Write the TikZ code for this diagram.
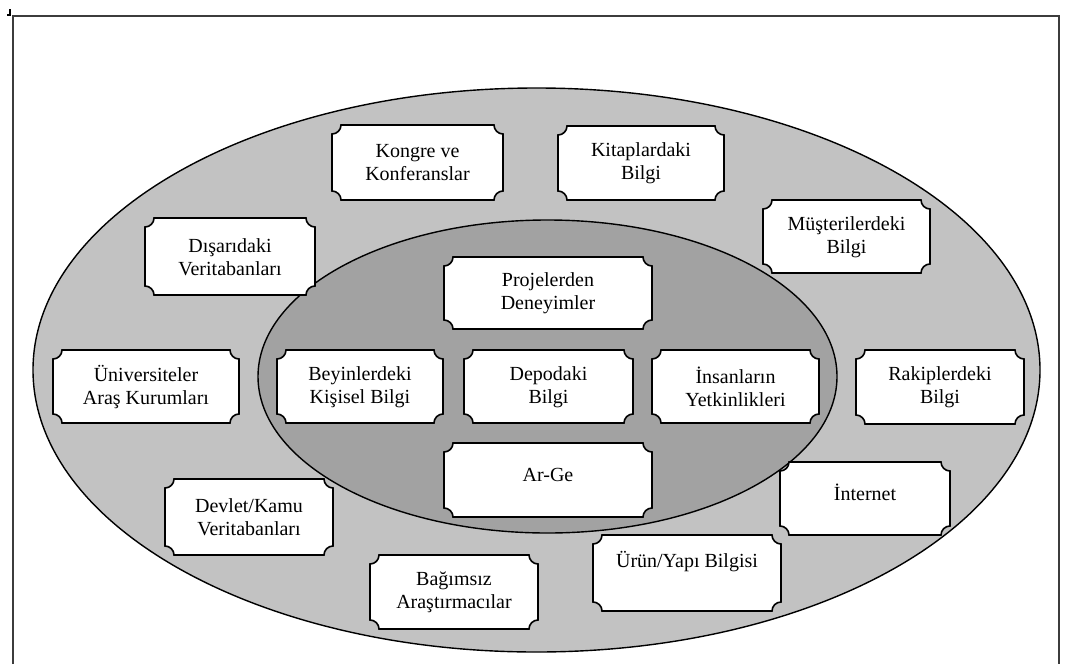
\documentclass[tikz,border=0pt]{standalone}
\usepackage{fontspec}
\setmainfont{Liberation Serif}
\definecolor{outergray}{RGB}{194,194,194}
\definecolor{innergray}{RGB}{162,162,162}
\definecolor{framegray}{RGB}{60,60,60}
% #1 name, #2 x1, #3 y1, #4 x2, #5 y2, #6 text y, #7 text
\newcommand\plaquebox[7]{%
  \filldraw[boxline] (#2+9,#3) -- (#4-9,#3) arc[start angle=180,end angle=90,radius=9]
    -- (#4,#5-9) arc[start angle=270,end angle=180,radius=9]
    -- (#2+9,#5) arc[start angle=0,end angle=-90,radius=9]
    -- (#2,#3+9) arc[start angle=90,end angle=0,radius=9] -- cycle;
  \node[boxtext] (#1) at ({(#2+#4)/2},#6) {#7};
}
\begin{document}
\begin{tikzpicture}[x=1pt,y=-1pt,
  boxline/.style={draw=black,fill=white,line width=1.6pt},
  boxtext/.style={font=\fontsize{20}{23}\selectfont,align=center,inner sep=0pt},
  ellline/.style={draw=black,line width=1.4pt}]
\useasboundingbox (0,0) rectangle (1067,664);
% frame
\draw[framegray,line width=2pt] (13,664) -- (13,16) -- (1059,16) -- (1059,664);
\draw[black,line width=1.2pt] (7,15) -- (10,15) -- (10,9);
% ellipses
\filldraw[ellline,fill=outergray] (536.5,370) ellipse [x radius=503.5,y radius=282];
\filldraw[ellline,fill=innergray] (547.5,376.5) ellipse [x radius=289.5,y radius=156.5];
% outer boxes
\plaquebox{kongre}{332}{125}{503}{200}{163}{Kongre ve\\Konferanslar}
\plaquebox{kitap}{558}{126}{724}{200}{163}{Kitaplardaki\\Bilgi}
\plaquebox{musteri}{763}{200}{930}{273}{237}{Müşterilerdeki\\Bilgi}
\plaquebox{disari}{145}{218}{315}{295}{257}{Dışarıdaki\\Veritabanları}
\plaquebox{univ}{53}{350}{239}{423}{387}{Üniversiteler\\Araş Kurumları}
\plaquebox{rakip}{856}{350}{1024}{424}{387}{Rakiplerdeki\\Bilgi}
\plaquebox{devlet}{165}{479}{333}{555}{517}{Devlet/Kamu\\Veritabanları}
\plaquebox{bagimsiz}{370}{555}{538}{629}{592}{Bağımsız\\Araştırmacılar}
\plaquebox{urun}{593}{535}{781}{611}{562}{Ürün/Yapı Bilgisi}
\plaquebox{internet}{780}{462}{950}{535}{492}{İnternet}
% inner boxes
\plaquebox{proje}{444}{257}{652}{329}{293}{Projelerden\\Deneyimler}
\plaquebox{beyin}{277}{350}{443}{423}{387}{Beyinlerdeki\\Kişisel Bilgi}
\plaquebox{depo}{464}{350}{633}{423}{387}{Depodaki\\Bilgi}
\plaquebox{insan}{652}{350}{819}{423}{387}{İnsanların\\Yetkinlikleri}
\plaquebox{arge}{444}{443}{652}{517}{475}{Ar-Ge}
\end{tikzpicture}
\end{document}
